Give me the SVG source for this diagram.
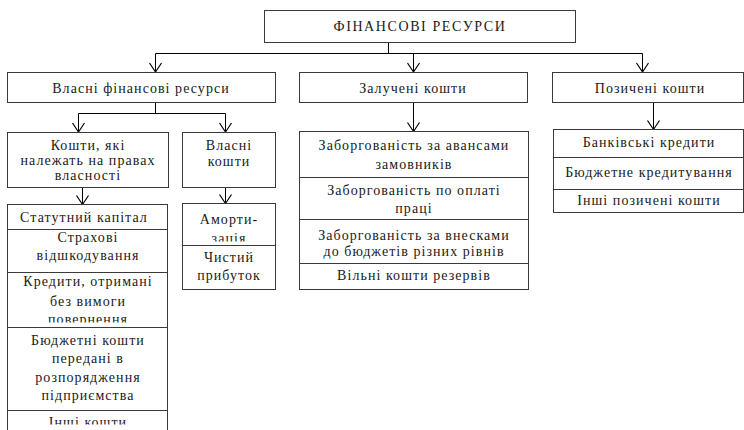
<svg xmlns="http://www.w3.org/2000/svg" width="744" height="430" viewBox="0 0 744 430">
<style>
.box{fill:#fff;stroke:#3a3a3a;stroke-width:1}
.t{font-family:"Liberation Serif","DejaVu Serif",serif;font-size:14px;letter-spacing:1.05px;fill:#1a1a1a;text-anchor:middle}
.title{letter-spacing:1.6px}
.c{stroke:#000;stroke-width:1;fill:none}
.a{marker-end:url(#arr)}
</style>
<defs>
<marker id="arr" markerUnits="userSpaceOnUse" orient="auto" markerWidth="12" markerHeight="14" refX="0" refY="0" overflow="visible">
<path d="M-9,-6 L0,0 L-9,6" fill="none" stroke="#000" stroke-width="1.2"/>
</marker>
<clipPath id="clipAm"><rect x="182" y="203" width="94" height="38.5"/></clipPath>
<clipPath id="clipKr"><rect x="7" y="272" width="161" height="50.5"/></clipPath>
<clipPath id="clipIn"><rect x="7" y="410" width="161" height="14.5"/></clipPath>
</defs>

<g id="connectors">
<path class="c" d="M388.5,42.5 V53.5"/>
<path class="c" d="M155.5,53.5 H642.5"/>
<path class="c a" d="M155.5,53.5 V72"/>
<path class="c a" d="M413.5,53.5 V72"/>
<path class="c a" d="M642.5,53.5 V72"/>
<path class="c" d="M155.5,102.5 V113.5 M78.5,113.5 H225.5"/>
<path class="c a" d="M78.5,113.5 V132"/>
<path class="c a" d="M225.5,113.5 V132"/>
<path class="c a" d="M413.5,102.5 V131.5"/>
<path class="c a" d="M653.5,102.5 V129.5"/>
<path class="c a" d="M82.5,187.5 V204.5"/>
<path class="c a" d="M225.5,187.5 V203.5"/>
</g>

<g id="root">
<rect class="box" x="264.5" y="10.5" width="311" height="32"/>
<text class="t title" x="420" y="31">ФІНАНСОВІ РЕСУРСИ</text>
</g>

<g id="own-resources">
<rect class="box" x="7.5" y="72.5" width="268" height="30"/>
<text class="t" x="141" y="93">Власні фінансові ресурси</text>
</g>
<g id="attracted">
<rect class="box" x="299.5" y="72.5" width="228" height="30"/>
<text class="t" x="413" y="93">Залучені кошти</text>
</g>
<g id="borrowed">
<rect class="box" x="552.5" y="72.5" width="191" height="30"/>
<text class="t" x="650" y="93">Позичені кошти</text>
</g>

<g id="property-funds">
<rect class="box" x="7.5" y="132.5" width="161" height="55"/>
<text class="t" x="88" y="150">Кошти, які</text>
<text class="t" x="88" y="165">належать на правах</text>
<text class="t" x="88" y="180">власності</text>
</g>
<g id="own-funds">
<rect class="box" x="182.5" y="132.5" width="93" height="55"/>
<text class="t" x="229" y="150">Власні</text>
<text class="t" x="229" y="166">кошти</text>
</g>

<g id="charter-capital">
<rect class="box" x="7.5" y="204.5" width="160" height="25"/>
<text class="t" x="84" y="222">Статутний капітал</text>
</g>
<g id="insurance">
<rect class="box" x="7.5" y="229.5" width="160" height="43"/>
<text class="t" x="88" y="242">Страхові</text>
<text class="t" x="88" y="260">відшкодування</text>
</g>
<g id="credits-no-return">
<rect class="box" x="7.5" y="272.5" width="160" height="55"/>
<g clip-path="url(#clipKr)">
<text class="t" x="88" y="286">Кредити, отримані</text>
<text class="t" x="88" y="306">без вимоги</text>
<text class="t" x="88" y="324">повернення</text>
</g>
</g>
<g id="budget-funds">
<rect class="box" x="7.5" y="327.5" width="160" height="83"/>
<text class="t" x="88" y="345">Бюджетні кошти</text>
<text class="t" x="88" y="363">передані в</text>
<text class="t" x="88" y="382">розпорядження</text>
<text class="t" x="88" y="400">підприємства</text>
</g>
<g id="other-funds">
<rect class="box" x="7.5" y="410.5" width="160" height="40"/>
<g clip-path="url(#clipIn)">
<text class="t" x="88" y="427">Інші кошти</text>
</g>
</g>

<g id="amortization">
<rect class="box" x="182.5" y="203.5" width="93" height="42"/>
<g clip-path="url(#clipAm)">
<text class="t" x="229" y="224">Аморти-</text>
<text class="t" x="229" y="243">зація</text>
</g>
</g>
<g id="net-profit">
<rect class="box" x="182.5" y="245.5" width="93" height="44"/>
<text class="t" x="229" y="262">Чистий</text>
<text class="t" x="229" y="280">прибуток</text>
</g>

<g id="advances">
<rect class="box" x="299.5" y="131.5" width="229" height="46"/>
<text class="t" x="414" y="150">Заборгованість за авансами</text>
<text class="t" x="414" y="169">замовників</text>
</g>
<g id="wages">
<rect class="box" x="299.5" y="177.5" width="229" height="42"/>
<text class="t" x="414" y="195">Заборгованість по оплаті</text>
<text class="t" x="414" y="213">праці</text>
</g>
<g id="budget-payments">
<rect class="box" x="299.5" y="219.5" width="229" height="44"/>
<text class="t" x="414" y="240">Заборгованість за внесками</text>
<text class="t" x="414" y="256">до бюджетів різних рівнів</text>
</g>
<g id="free-reserves">
<rect class="box" x="299.5" y="263.5" width="229" height="26"/>
<text class="t" x="414" y="280">Вільні кошти резервів</text>
</g>

<g id="bank-credits">
<rect class="box" x="553.5" y="129.5" width="190" height="28"/>
<text class="t" x="649" y="147">Банківські кредити</text>
</g>
<g id="budget-crediting">
<rect class="box" x="553.5" y="157.5" width="190" height="32"/>
<text class="t" x="649" y="177">Бюджетне кредитування</text>
</g>
<g id="other-borrowed">
<rect class="box" x="553.5" y="189.5" width="190" height="23"/>
<text class="t" x="649" y="205">Інші позичені кошти</text>
</g>
</svg>
